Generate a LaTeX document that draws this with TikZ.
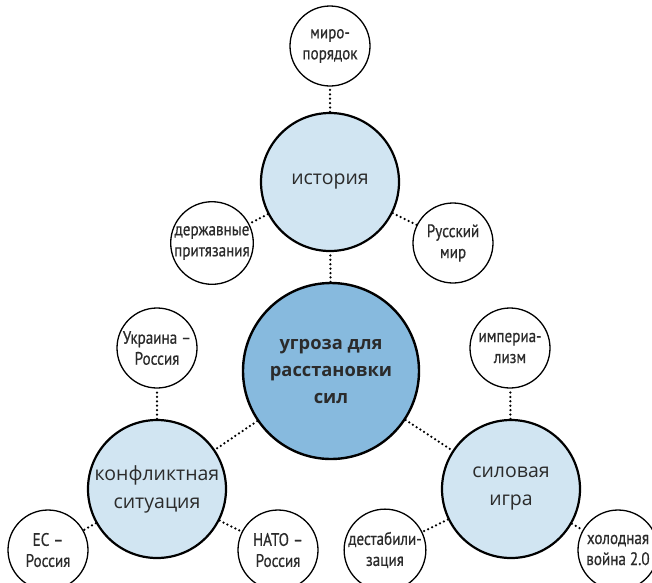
\documentclass[tikz,border=0pt]{standalone}
\usepackage{fontspec}
\setmainfont{Open Sans}
\newfontfamily\narrowfont[FakeStretch=0.84, FakeBold=0.6]{PT Sans}
\definecolor{core}{rgb}{.53,.73,.87}
\definecolor{pale}{rgb}{.82,.90,.95}
\definecolor{ink}{rgb}{.17,.17,.17}

\tikzset{
	center/.style={circle, draw=black, line width=2.4pt, fill=core, text=ink, minimum size=176pt, inner sep=0pt, align=center, font=\fontsize{18.3}{27}\selectfont\bfseries},
	topic/.style={circle, draw=black, line width=2.2pt, fill=pale, text=ink, minimum size=138pt, inner sep=0pt, align=center, font=\fontsize{19.5}{28}\selectfont},
	leaf/.style={circle, draw=black, line width=1.3pt, fill=white, text=ink, minimum size=80pt, inner sep=0pt, align=center, font=\narrowfont\fontsize{18}{21}\selectfont},
	link/.style={line width=2.5pt, line cap=round, dash pattern=on 0pt off 4.4pt}
}

\begin{document}
\begin{tikzpicture}[x=1pt, y=-1pt]
	\useasboundingbox (0,0) rectangle (652,582);
	\clip (0,0) rectangle (652,582);

	\node[center] (threat) at (331,371) {угроза для\\расстановки\\сил};

	\node[topic] (history) at (330,182) {история};
	\node[topic] (conflict) at (157,489) {конфликтная\\ситуация};
	\node[topic] (power) at (511,489) {силовая\\игра};

	\node[leaf] (order) at (330,46) {миро-\\порядок};
	\node[leaf] (claims) at (212,243) {державные\\притязания};
	\node[leaf] (rusworld) at (453,243) {Русский\\мир};
	\node[leaf] (ukraine) at (157,348) {Украина –\\Россия};
	\node[leaf] (imperial) at (510,348) {империа-\\лизм};
	\node[leaf] (eu) at (48,550) {ЕС –\\Россия};
	\node[leaf] (nato) at (278,550) {НАТО –\\Россия};
	\node[leaf] (destab) at (385,550) {дестабили-\\зация};
	\node[leaf] (coldwar) at (618,550) {холодная\\война 2.0};

	\draw[link] (threat) -- (history);
	\draw[link] (threat) -- (conflict);
	\draw[link] (threat) -- (power);

	\draw[link] (history) -- (order);
	\draw[link] (history) -- (claims);
	\draw[link] (history) -- (rusworld);
	\draw[link] (conflict) -- (ukraine);
	\draw[link] (conflict) -- (eu);
	\draw[link] (conflict) -- (nato);
	\draw[link] (power) -- (imperial);
	\draw[link] (power) -- (destab);
	\draw[link] (power) -- (coldwar);
\end{tikzpicture}
\end{document}
